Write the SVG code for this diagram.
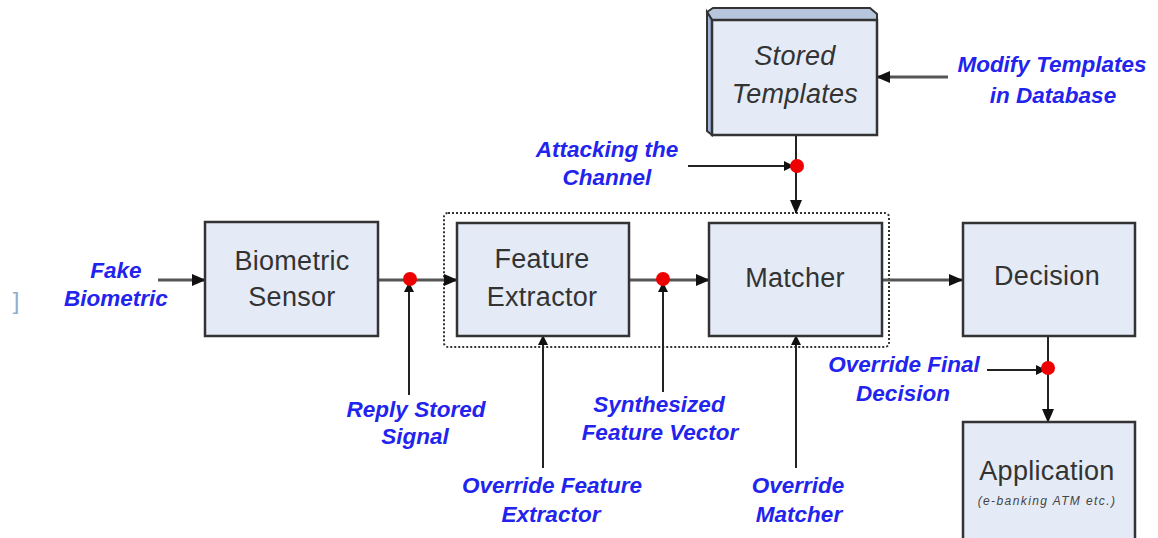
<svg xmlns="http://www.w3.org/2000/svg" width="1158" height="538" viewBox="0 0 1158 538">
  <style>
    .box { fill: #e4ebf6; stroke: #333; stroke-width: 2.5; }
    .flow { fill: none; stroke: #555; stroke-width: 3; }
    .atk { fill: none; stroke: #222; stroke-width: 2; }
    .tap { fill: #ee0000; }
    .lbl { font-family: "Liberation Sans", Arial, sans-serif; font-size: 27px; fill: #333; text-anchor: middle; letter-spacing: 0.3px; }
    .atxt { font-family: "Liberation Sans", Arial, sans-serif; font-size: 22.5px; font-weight: bold; font-style: italic; fill: #2323ee; text-anchor: middle; }
  </style>
  <defs>
    <marker id="ah" markerWidth="10" markerHeight="10" refX="9" refY="5" orient="auto" markerUnits="userSpaceOnUse" viewBox="0 0 10 10">
      <path d="M0,0 L10,5 L0,10 z" fill="#111"/>
    </marker>
    <marker id="ahb" markerWidth="14" markerHeight="14" refX="13" refY="7" orient="auto" markerUnits="userSpaceOnUse" viewBox="0 0 14 14">
      <path d="M0,1 L14,7 L0,13 z" fill="#111"/>
    </marker>
  </defs>

  <rect width="1158" height="538" fill="#fff"/>

  <!-- processing pipeline enclosure -->
  <rect x="444" y="213" width="445" height="134" rx="4" fill="none" stroke="#333" stroke-width="2" stroke-dasharray="2 2"/>

  <g id="connectors">
    <!-- main flow -->
    <line class="flow" x1="158" y1="280" x2="205" y2="280" marker-end="url(#ahb)"/>
    <line class="flow" x1="378" y1="280" x2="457" y2="280" marker-end="url(#ahb)"/>
    <line class="flow" x1="629" y1="280" x2="709" y2="280" marker-end="url(#ahb)"/>
    <line class="flow" x1="882" y1="280" x2="962" y2="280" marker-end="url(#ahb)"/>
    <line class="atk" x1="796" y1="135" x2="796" y2="213" marker-end="url(#ahb)"/>
    <line class="atk" x1="1048" y1="336" x2="1048" y2="422" marker-end="url(#ahb)"/>

    <!-- attack points -->
    <line class="atk" x1="409" y1="395" x2="409" y2="283" marker-end="url(#ah)"/>
    <line class="atk" x1="663" y1="392" x2="663" y2="283" marker-end="url(#ah)"/>
    <line class="atk" x1="543" y1="468" x2="543" y2="336" marker-end="url(#ah)"/>
    <line class="atk" x1="796" y1="468" x2="796" y2="336" marker-end="url(#ah)"/>
    <line class="atk" x1="688" y1="166" x2="793" y2="166" marker-end="url(#ah)"/>
    <line class="flow" x1="948" y1="77" x2="877" y2="77" marker-end="url(#ahb)"/>
    <line class="atk" x1="987" y1="370" x2="1045" y2="370" marker-end="url(#ah)"/>

    <circle class="tap" cx="410" cy="279" r="7"/>
    <circle class="tap" cx="663" cy="279" r="7"/>
    <circle class="tap" cx="797" cy="166" r="7"/>
    <circle class="tap" cx="1048" cy="368" r="7"/>
  </g>

  <g id="stored-templates">
    <path d="M707,12 L713,8 L870,8 L877,14 L877,20 L712,20 Z" fill="#b7c6dc" stroke="#333" stroke-width="2"/>
    <path d="M707,12 L712,20 L712,135 L707,131 Z" fill="#9fb4d8" stroke="#333" stroke-width="2"/>
    <rect class="box" x="712" y="20" width="165" height="115"/>
    <text class="lbl" x="795" y="65" font-style="italic">Stored</text>
    <text class="lbl" x="795" y="103" font-style="italic">Templates</text>
  </g>

  <g id="biometric-sensor">
    <rect class="box" x="205" y="222" width="173" height="114"/>
    <text class="lbl" x="292" y="270">Biometric</text>
    <text class="lbl" x="292" y="306">Sensor</text>
  </g>

  <g id="feature-extractor">
    <rect class="box" x="457" y="223" width="172" height="113"/>
    <text class="lbl" x="542" y="268">Feature</text>
    <text class="lbl" x="542" y="306">Extractor</text>
  </g>

  <g id="matcher">
    <rect class="box" x="709" y="223" width="173" height="113"/>
    <text class="lbl" x="795" y="287">Matcher</text>
  </g>

  <g id="decision">
    <rect class="box" x="963" y="223" width="172" height="113"/>
    <text class="lbl" x="1047" y="285">Decision</text>
  </g>

  <g id="application">
    <rect class="box" x="963" y="422" width="172" height="125"/>
    <text class="lbl" x="1047" y="480">Application</text>
    <text x="1047" y="505" font-family="Liberation Sans, Arial, sans-serif" font-size="12" font-style="italic" fill="#444" text-anchor="middle" letter-spacing="1.4">(e-banking ATM etc.)</text>
  </g>

  <g id="attack-labels">
    <text class="atxt" x="116" y="278">Fake</text>
    <text class="atxt" x="116" y="306">Biometric</text>
    <text class="atxt" x="416" y="417">Reply Stored</text>
    <text class="atxt" x="415" y="444">Signal</text>
    <text class="atxt" x="659" y="412">Synthesized</text>
    <text class="atxt" x="660" y="440">Feature Vector</text>
    <text class="atxt" x="552" y="493">Override Feature</text>
    <text class="atxt" x="551" y="522">Extractor</text>
    <text class="atxt" x="798" y="493">Override</text>
    <text class="atxt" x="799" y="522">Matcher</text>
    <text class="atxt" x="904" y="372">Override Final</text>
    <text class="atxt" x="903" y="401">Decision</text>
    <text class="atxt" x="607" y="157">Attacking the</text>
    <text class="atxt" x="607" y="185">Channel</text>
    <text class="atxt" x="1052" y="72">Modify Templates</text>
    <text class="atxt" x="1053" y="103">in Database</text>
  </g>

  <text x="16" y="309" font-family="Liberation Sans, Arial, sans-serif" font-size="24" fill="#8aaed0" text-anchor="middle">]</text>
</svg>
